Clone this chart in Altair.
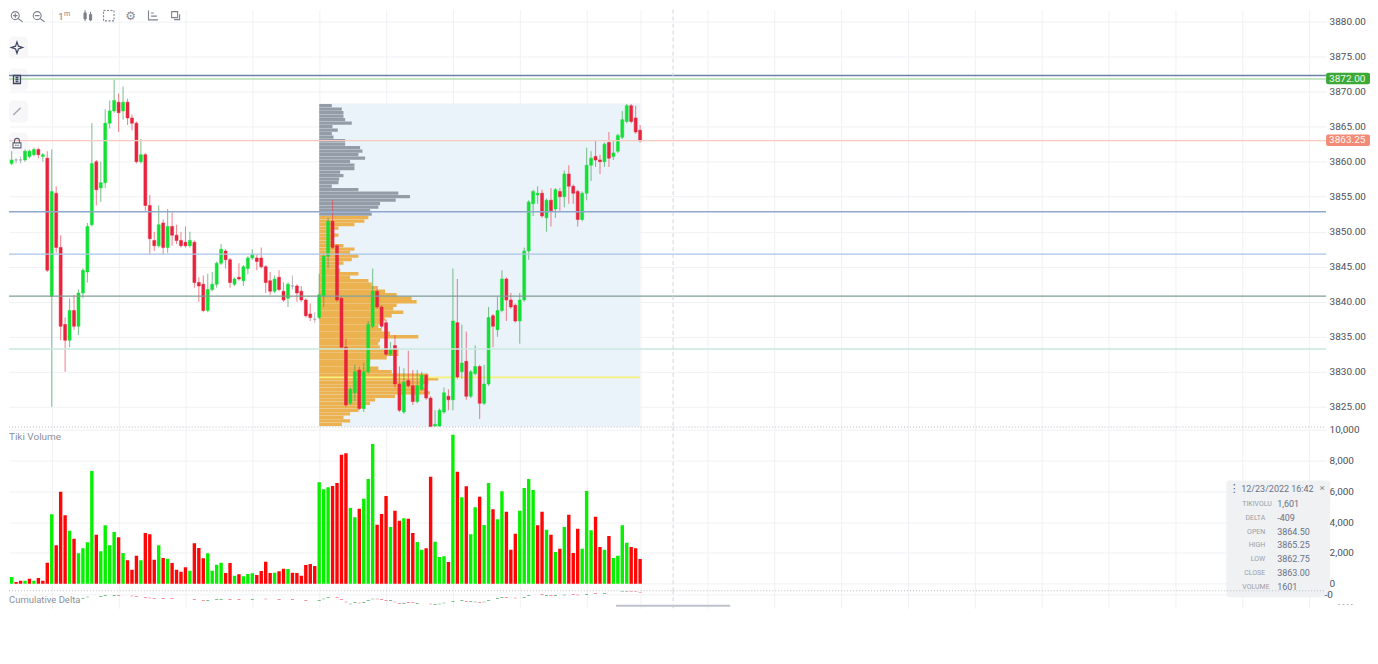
import altair as alt
import pandas as pd

opens = [
 3860.25,3860.5,3859.75,3860.25,3860.25,3860.25,3860.75,3861,3861.75,3860.75,
 3860.5,3840.75,3855.5,3847.75,3836.75,3834.5,3838.75,3836.5,3841.25,3844.25,
 3851,3860,3856.25,3857,3865.5,3867.25,3868.5,3867.25,3868.5,3866.25,
 3865.5,3860,3861,3853.75,3848.75,3848,3851.25,3847.75,3850.75,3849.5,
 3848.75,3848.5,3848,3848.5,3842.75,3842.5,3838.75,3841.75,3842.5,3845.5,
 3847.25,3846,3842.5,3843.5,3843,3844.75,3846.25,3846.25,3846.25,3845,
 3843,3841.5,3843.5,3841.5,3840.5,3842.25,3842.25,3841.5,3840.25,3838.25,
 3837.5,3837.75,3840.75,3846.5,3851.5,3848,3840.5,3833.5,3825.5,3827,
 3830.25,3824.75,3830,3836.5,3841.5,3839.25,3837,3832.5,3833.75,3828.25,
 3824.25,3828.75,3828,3825.75,3827.5,3829.5,3826.25,3822.25,3822.25,3824.25,
 3826.5,3826,3837,3830,3831.5,3826.5,3829.75,3830.75,3825.5,3828.25,
 3838,3836,3838.75,3843.25,3840.25,3839.5,3837.25,3840.25,3847.25,3854,
 3855.25,3855.5,3852,3854.5,3853.25,3855.75,3855,3858.25,3856.5,3855.75,
 3851.75,3855.5,3859.5,3860.75,3860.25,3860,3862.75,3860.75,3861.5,3863.5,
 3865.75,3868,3866.25,3864.5]
closes = [
 3860.25,3859.75,3860.25,3860.25,3860.25,3861.5,3861.5,3861.75,3861,3861,
 3844.5,3855.75,3847.75,3836.5,3834.5,3838.75,3836.5,3841.25,3844.5,3850.75,
 3859.75,3856,3857,3865.5,3867.25,3868.75,3867,3868.5,3866.25,3865.5,
 3860,3861,3853.75,3849,3848,3851,3847.75,3850.75,3849.5,3848.75,
 3848,3848,3848.75,3842.75,3842.25,3838.75,3841.75,3842.5,3845.5,3847.5,
 3846,3842.75,3843.25,3843.25,3845,3846.25,3846.75,3845.75,3845,3842.75,
 3841.5,3843.25,3841.75,3840.25,3842.5,3842.25,3841.25,3840.25,3838,3837.75,
 3837.5,3841,3846.5,3851.5,3847.75,3840.25,3833.5,3825.25,3827.5,3830,
 3824.75,3830,3836.75,3841.5,3839.25,3836.5,3832.5,3833.25,3828.25,3824.5,
 3828.5,3828,3825.75,3828,3829.5,3826.25,3822,3822.5,3824.5,3827,
 3826,3837.25,3829.25,3831.25,3826.5,3830,3830.75,3825.5,3828.25,3837.75,
 3836.5,3838.75,3843.25,3840.25,3839.25,3837.25,3840.25,3847.25,3854.25,3855.75,
 3855.5,3852.25,3854.5,3853,3856,3855,3858.25,3856.5,3855.5,3851.75,
 3855.5,3859.5,3860.5,3860.25,3860,3862.5,3860.5,3861.25,3863.75,3866,
 3868,3865.75,3864.25,3863]
highs = [
 3860.75,3860.5,3861.5,3860.5,3860.75,3861.75,3861.75,3862,3862,3861.25,
 3861.5,3861.75,3856.5,3849.5,3837.75,3840.5,3841,3841.75,3844.75,3851.25,
 3865.5,3860.25,3860,3867.5,3868.75,3871.75,3869.75,3870.75,3869,3866.75,
 3865.75,3863.25,3861.25,3855.25,3850,3853.75,3851.75,3853.25,3852.75,3851,
 3850,3850.75,3850,3848.75,3843.5,3843.75,3844,3844.25,3845.75,3848.25,
 3847.5,3846.25,3843.5,3845.5,3845.25,3846.5,3847.5,3846.75,3847.75,3845.25,
 3844.25,3843.75,3844.5,3842.75,3842.75,3843.75,3842.5,3842.25,3840.5,3839.75,
 3838.5,3844,3846.75,3852,3854.5,3848.25,3840.75,3834.75,3827.75,3831,
 3830.75,3831.25,3837.25,3844.75,3842.25,3839.5,3837.5,3834.25,3835.25,3830.75,
 3830.5,3833,3830.25,3830.25,3830,3829.75,3826.5,3824.5,3824.75,3827.75,
 3827.5,3844.75,3843.25,3836.75,3835.75,3830.25,3833.75,3831,3831,3839.25,
 3838.25,3840.75,3844.5,3843.5,3841.25,3839.75,3841.25,3847.75,3854.5,3856,
 3856.5,3856,3854.75,3856.25,3856.25,3856.25,3858.75,3859.5,3856.75,3856,
 3855.75,3862,3861.5,3863,3861,3862.75,3864.25,3863,3864,3867.25,
 3868.25,3868.25,3868,3865.25]
lows = [
 3859.5,3859.5,3859.5,3859.75,3859.75,3860,3860.5,3860.75,3860.5,3860,
 3844.25,3825,3847,3834.5,3830,3833.5,3836,3835.25,3840.5,3842.75,
 3850.75,3853.75,3854.25,3856.25,3864.75,3867,3864.25,3866,3865.25,3864.5,
 3859.75,3859.75,3853,3846.75,3847.25,3847.75,3846.75,3847,3848,3848.25,
 3847.75,3847.75,3847.75,3842,3840,3838.5,3838.5,3841.5,3842,3845.25,
 3844.75,3842,3842.25,3843,3842.25,3844,3846,3844.5,3844.75,3841.25,
 3841,3841.25,3841.5,3840,3839.25,3841.75,3840,3840,3837.75,3837.25,
 3837,3837.5,3839.25,3844.75,3847.5,3840,3833.25,3825,3825.25,3825.75,
 3824.5,3824.25,3829.75,3836.25,3839,3836.25,3832.25,3832.25,3827.75,3824.25,
 3824,3827.75,3825.25,3825.5,3827.25,3826,3822,3822,3822,3824,
 3824.5,3824.5,3829,3829,3826,3826.25,3829.5,3823.25,3825.25,3828,
 3833.5,3835,3838.5,3837.25,3839,3837,3834,3840,3846,3852.25,
 3854,3852,3850,3850.75,3852,3853,3853.5,3854,3854,3850.75,
 3851.5,3854.5,3857.25,3859.25,3858.25,3859.25,3859.25,3860.25,3861.25,3863.25,
 3865.5,3865.5,3864,3862.75]
volumes = [
 281,195,433,108,195,195,325,195,368,195,
 1364,4503,2490,5975,4438,3442,2923,1970,2295,2685,
 7318,3183,2100,3789,2490,3356,3009,1992,1516,909,
 1819,1516,3291,3204,1559,2490,1667,1624,1342,909,
 779,1061,844,2620,2317,1645,1970,844,1234,1364,
 693,1342,520,606,476,628,671,563,823,1429,
 693,714,801,974,953,714,693,520,1212,1277,
 1147,6582,6127,6257,6343,6538,8378,8465,4915,4308,
 4871,5521,6798,9071,3832,4525,5694,3680,4741,4092,
 4243,4222,3291,2706,2208,2295,6950,2728,1732,1775,
 1407,9678,7274,5607,6322,3204,4958,5651,3810,6538,
 4828,4178,5997,4676,2208,3247,4741,6214,6798,6084,
 3789,4676,3507,3183,2057,2273,3680,4482,1992,3572,
 2273,6019,3464,4352,2382,2208,3096,1667,1819,3789,
 2663,2382,2295,1601]
volume_sides = list(
 "rrgrrgrgrr" "rgrrrgrggg" "grgggg" "rgrr" "rgrrrgrgrr" "rrgrrrgggg"
 "rrgrgggrrr" "rgrrgrrrrr" "rgggrrrrgg" "rgggrrrgrr" "grrggrrggg"
 "rgrgrggrgg" "rggrrrgggg" "rrgrgrgrrr" "gggrrgrggg" "grrr")
profile_upper = [380,680,730,730,780,980,400,560,380,430,
 780,780,1230,1300,1180,1380,930,1060,1060,630,
 730,600,580,380,1180,2380,2730,2300,1830,1780,1530,1580]
profile_lower = [1480,1360,1060,580,430,580,380,380,730,1060,
 930,1180,980,730,530,630,1180,930,1480,1580,
 1730,1980,2330,2780,2930,2330,2230,2530,2180,1980,
 1930,1780,1880,2130,2980,1830,1780,1830,2380,2380,
 2030,1530,1480,1780,2180,3280,3580,3280,3080,3180,
 3330,2280,1680,1530,1380,1180,930,730,930,680]
delta_index = [18,19,22,23,25,26,29,30,32,33,34,36,38,43,45,46,48,49,51,53,56,59,62,65,68,
 71,72,73,75,76,77,78,79,80,81,82,83,84,85,86,87,88,89,90,91,92,93,96,97,98,99,
 101,103,104,105,106,107,108,109,111,112,113,115,117,118,121,122,123,124,126,128,129,131,133,135,
 139,140,141,142,143]
delta_values = [-2500,-2100,-1900,-1700,-1700,-1700,-1800,-2000,-2200,-2400,-2500,-2500,-2500,-2800,-3100,-3100,-2800,-2800,-2800,-2800,-2800,-2700,-2900,-2900,-3200,
 -3100,-2700,-2200,-2300,-2900,-3600,-4200,-3800,-3900,-3800,-3200,-2700,-2700,-2800,-3100,-3200,-3600,-4000,-4000,-3700,-3800,-4000,-4200,-4300,-4200,-3900,
 -3400,-3200,-3500,-3400,-3600,-3700,-3600,-3200,-2500,-2300,-2300,-2400,-2200,-1600,-1400,-1600,-1700,-1600,-1500,-1300,-1500,-1300,-1000,-1000,
 -500,-500,-500,-500,-800]
price_ticks = [3825,3830,3835,3840,3845,3850,3855,3860,3865,3870,3875,3880]
volume_ticks = [0,2000,4000,6000,8000,10000]
delta_ticks = [-1200]
time_grid = [11,26,41,56,71,86,101,116,131,143,158,173,188,203,218,233,248,263,278,293]
levels = [
 (3872.3,"#6d83a6",1.6),(3871.8,"#b5dfb0",1.6),(3863.0,"#f8c9c0",1.2),
 (3852.85,"#8ea8cb",1.6),(3846.8,"#a9c4e8",1.5),(3840.8,"#7f9d93",1.4),(3833.25,"#c9e8e0",1.4)]
badges = [("3872.00",3871.87,"#3aa935"),("3863.25",3863.05,"#f48b78")]
tooltip_rows = [("TIKIVOLU","1,601"),("DELTA","-409"),("OPEN","3864.50"),("HIGH","3865.25"),
                ("LOW","3862.75"),("CLOSE","3863.00"),("VOLUME","1601")]

FONT = "Roboto"
GRID = "#f0f1f4"
BODY = {"up": "#12e034", "down": "#e8233c", "flat": "#8f95a0"}
WICK = {"up": "#3c9f50", "down": "#e8404f", "flat": "#8f95a0"}
N = len(opens)
sides = ["flat" if c == o else ("up" if c > o else "down") for o, c in zip(opens, closes)]
candles = pd.DataFrame({"i": range(N), "o": opens, "h": highs, "l": lows, "c": closes,
                        "bc": [BODY[s] for s in sides], "wc": [WICK[s] for s in sides]})
vols = pd.DataFrame({"i": range(N), "v": volumes,
                     "bc": ["#06f000" if s == "g" else "#ff0505" for s in volume_sides[:N]]})
delta = pd.DataFrame({"i": delta_index, "d": delta_values})
delta["d2"] = delta["d"] + 200
delta["bc"] = ["#2f9e48" if volume_sides[i] == "g" else "#f0506a" for i in delta_index]
PROFILE_START, PROFILE_END, PROFILE_K = 71, 143, 134.0
prof_hi = pd.DataFrame({"p": [3868 - 0.5 * k for k in range(len(profile_upper))], "q": profile_upper})
prof_lo = pd.DataFrame({"p": [3852 - 0.5 * k for k in range(len(profile_lower))], "q": profile_lower})
for f in (prof_hi, prof_lo):
    f["x0"] = PROFILE_START
    f["x1"] = PROFILE_START + f["q"] / PROFILE_K
one = pd.DataFrame({"a": [0]})

xs = alt.Scale(domain=[1.41, 296.9], nice=False, zero=False, padding=0)
ps = alt.Scale(domain=[3822.15, 3881.71], nice=False, zero=False, padding=0)
vs = alt.Scale(domain=[-434, 10194], nice=False, zero=False, padding=0)
ds = alt.Scale(domain=[-5400, 0], nice=False, zero=False, padding=0)
PLOT_W = 1320

X_AXIS = alt.Axis(values=time_grid, grid=True, gridColor=GRID, gridWidth=1, labels=False,
                  ticks=False, domain=False, title=None)

def y_axis(values, fmt=None, expr=None, pad=3):
    ax = dict(values=values, grid=True, gridColor=GRID, gridWidth=1, domain=False, ticks=False,
              labelFont=FONT, labelFontSize=10, labelColor="#4c505c", labelPadding=pad,
              labelOverlap=False, labelBound=False, labelFlush=False, title=None, orient="right")
    if fmt:
        ax["format"] = fmt
    if expr:
        ax["labelExpr"] = expr
    return alt.Axis(**ax)

P_AXIS = y_axis(price_ticks, ".2f")
V_AXIS = y_axis(volume_ticks, ",d")
D_AXIS = y_axis(delta_ticks, expr="'-0'", pad=-2)

def X(field="i"):
    return alt.X(f"{field}:Q", scale=xs, axis=X_AXIS)

def Y(field, ys, axis):
    return alt.Y(f"{field}:Q", scale=ys, axis=axis)

def crosshair():
    return alt.Chart(one).mark_rule(color="#d2d4da", strokeWidth=1, strokeDash=[4, 3]).encode(
        x=alt.X(datum=150.4, scale=xs, axis=X_AXIS))

def txt(s, px, py, size=10, color="#8a8f99", align="left", font=FONT, **kw):
    return alt.Chart(one).mark_text(text=s, fontSize=size, color=color, align=align, font=font,
                                    baseline="middle", **kw).encode(x=alt.value(px), y=alt.value(py))

def icon(path, px, py, size=100, color="#7d818c", sw=1.1, filled=False, **kw):
    args = dict(shape=path, size=size, stroke=color, strokeWidth=sw, opacity=1, clip=True)
    if filled:
        args.update(filled=True, fill=color)
    else:
        args.update(filled=False)
    return alt.Chart(one).mark_point(**args, **kw).encode(x=alt.value(px), y=alt.value(py))

def btn(px0, py0, px1, py1):
    return alt.Chart(one).mark_rect(color="#f7f7f9", cornerRadius=4).encode(
        x=alt.value(px0), x2=alt.value(px1), y=alt.value(py0), y2=alt.value(py1))

def full_rule(val, ys, axis, color, width, **kw):
    frame = pd.DataFrame({"a": [xs.domain[0]], "b": [xs.domain[1]], "p": [val]})
    return alt.Chart(frame).mark_rule(color=color, strokeWidth=width, **kw).encode(
        x=X("a"), x2="b:Q", y=Y("p", ys, axis))

# ---------- price panel ----------
box = pd.DataFrame({"a": [PROFILE_START], "b": [PROFILE_END], "t": [3868.3], "u": [3822.15]})
bg = alt.Chart(box).mark_rect(color="#ebf3fa").encode(x=X("a"), x2="b:Q", y=Y("u", ps, P_AXIS), y2="t:Q")

def prof(f, color):
    return alt.Chart(f).mark_rule(color=color, strokeWidth=3.3, opacity=0.95, clip=True).encode(
        x=X("x0"), x2="x1:Q", y=Y("p", ps, P_AXIS))

poc = alt.Chart(pd.DataFrame({"a": [PROFILE_START], "b": [PROFILE_END], "p": [3829.2]})).mark_rule(
    color="#f7f07c", strokeWidth=1.8).encode(x=X("a"), x2="b:Q", y=Y("p", ps, P_AXIS))

wicks = alt.Chart(candles).mark_rule(strokeWidth=1.1, opacity=0.62, clip=True).encode(
    x=X(), y=Y("l", ps, P_AXIS), y2="h:Q", color=alt.Color("wc:N", scale=None))
bodies = alt.Chart(candles).mark_bar(size=3.0, strokeWidth=0.5, clip=True).encode(
    x=X(), y=Y("o", ps, P_AXIS), y2="c:Q", color=alt.Color("bc:N", scale=None), stroke=alt.Stroke("bc:N", scale=None))

lines = [full_rule(p, ps, P_AXIS, c, w) for p, c, w in levels]

badge_df = pd.DataFrame({"s": [b[0] for b in badges], "p": [b[1] for b in badges], "c": [b[2] for b in badges]})
badge_df["p0"] = badge_df["p"] - 0.82
badge_df["p1"] = badge_df["p"] + 0.82
badge_rect = alt.Chart(badge_df).mark_rect(cornerRadius=2).encode(
    x=alt.value(PLOT_W), x2=alt.value(PLOT_W + 44), y=Y("p0", ps, P_AXIS), y2="p1:Q",
    color=alt.Color("c:N", scale=None))
badge_txt = alt.Chart(badge_df).mark_text(color="#f4fbf2", fontSize=10, font=FONT, align="left", baseline="middle").encode(
    x=alt.value(PLOT_W + 3), y=Y("p", ps, P_AXIS), text="s:N")

IC = "#7d818c"
mag = "M0.4 0A0.7 0.7 0 1 1 -1 0A0.7 0.7 0 1 1 0.4 0M0.2 0.5L1 1.1M-0.7 0L0.1 0"
buttons = [btn(0, 27, 19, 49), btn(0, 59, 19, 81), btn(0, 91, 19, 113), btn(0, 123, 19, 145)]
toolbar = [
    icon(mag + "M-0.3 -0.4L-0.3 0.4", 8, 6, 130),
    icon(mag, 30, 6, 130),
    txt("1", 49, 7, 10, IC, clip=True), txt("m", 55, 4, 7, IC, clip=True),
    icon("M-0.7 -0.5H-0.3V0.6H-0.7ZM-0.5 -1V1M0.3 -0.2H0.7V0.8H0.3ZM0.5 -0.7V1", 79, 6, 120, IC, 1, True),
    icon("M-1 -1H1V1H-1Z", 100, 6, 110, IC, 1.1, strokeDash=[2, 1.5]),
    txt("⚙", 122, 6, 12, "#8a8e98", "center", "DejaVu Sans", clip=True),
    icon("M-0.8 -1V0.8H1M-0.3 -0.5H0.2M-0.3 0.1H0.8", 144, 6, 110),
    icon("M-0.8 -0.8H0.4V0.4H-0.8ZM0.8 -0.3V0.8H-0.3", 167, 6, 100),
    icon("M0 -1L0.25 -0.25L1 0L0.25 0.25L0 1L-0.25 0.25L-1 0L-0.25 -0.25Z", 8, 38, 130, "#3d4560", 1.2),
    icon("M-0.7 -0.8H0.7V0.8H-0.7ZM-0.3 -0.4H0.3M-0.3 0H0.3M-0.3 0.4H0.3", 8, 70, 100, "#3d4560", 1.3),
    icon("M-0.7 0.7L0.7 -0.7", 8, 102, 110, "#a5a8b0", 1.4),
    icon("M-0.8 -0.1H0.8V0.9H-0.8ZM-0.5 -0.1V-0.5A0.5 0.5 0 0 1 0.5 -0.5V-0.1M-0.35 0.4H-0.1M0.1 0.4H0.35", 8, 134, 100, "#5c6172", 1.1),
]

price = alt.layer(
    *buttons, bg, prof(prof_hi, "#8f97a3"), prof(prof_lo, "#edae47"), poc,
    wicks, bodies, *lines,
    crosshair(), badge_rect, badge_txt, *toolbar,
).properties(width=PLOT_W, height=418)

# ---------- volume panel ----------
vbars = alt.Chart(vols).mark_bar(size=3.4, clip=True).encode(
    x=X(), y=Y("v", vs, V_AXIS), y2=alt.datum(0), color=alt.Color("bc:N", scale=None))

def vp(ix, iy):
    return ix - 8, iy - 426

tx0, ty0 = vp(1228, 480)
tx1, ty1 = vp(1332, 597)
tip = [alt.Chart(one).mark_rect(color="#eef0f3", opacity=0.96, cornerRadius=3).encode(
    x=alt.value(tx0), x2=alt.value(tx1), y=alt.value(ty0), y2=alt.value(ty1)),
    txt("⋮", *vp(1236, 488), 11, "#5c6172", "center", "DejaVu Sans"),
    txt("12/23/2022 16:42", *vp(1243, 488), 9, "#6b7086"),
    txt("×", *vp(1324, 487), 10, "#8a8f99", "center")]
for k, (a, b) in enumerate(tooltip_rows):
    yy = 503 + 14 * k
    if a in ("TIKIVOLU", "VOLUME"):
        tip.append(txt(a, *vp(1244, yy), 7, "#9a9eaa"))
    else:
        tip.append(txt(a, *vp(1267, yy), 7, "#9a9eaa", "right"))
    tip.append(txt(b, *vp(1279, yy), 9, "#6b7086"))

volume = alt.layer(
    vbars, crosshair(), full_rule(10174, vs, V_AXIS, "#b9bcc3", 1, strokeDash=[1, 2]),
    txt("Tiki Volume", 0, 10, 10, "#8a8f99"), *tip,
).properties(width=PLOT_W, height=164)

# ---------- delta panel ----------
dbars = alt.Chart(delta).mark_bar(size=3.0, opacity=0.85, clip=True).encode(
    x=X(), y=Y("d", ds, D_AXIS), y2="d2:Q", color=alt.Color("bc:N", scale=None))
scroll = alt.Chart(pd.DataFrame({"a": [137.6], "b": [163.2], "p": [-4650]})).mark_rule(
    color="#bfc2cc", strokeWidth=2).encode(x=X("a"), x2="b:Q", y=Y("p", ds, D_AXIS))

delta_panel = alt.layer(
    dbars, crosshair(), full_rule(-120, ds, D_AXIS, "#b9bcc3", 1, strokeDash=[1, 2]), scroll,
    txt("Cumulative Delta", 0, 10, 9.5, "#8a8f99"),
    txt("- - - -", 1332, 15, 8, "#8a8f99"),
).properties(width=PLOT_W, height=18)

chart = alt.vconcat(price, volume, delta_panel, spacing=0, bounds="flush").properties(
    padding=0, background="white").configure_view(stroke=None)

chart.save("out.html", embed_options={"renderer": "svg", "actions": False})
